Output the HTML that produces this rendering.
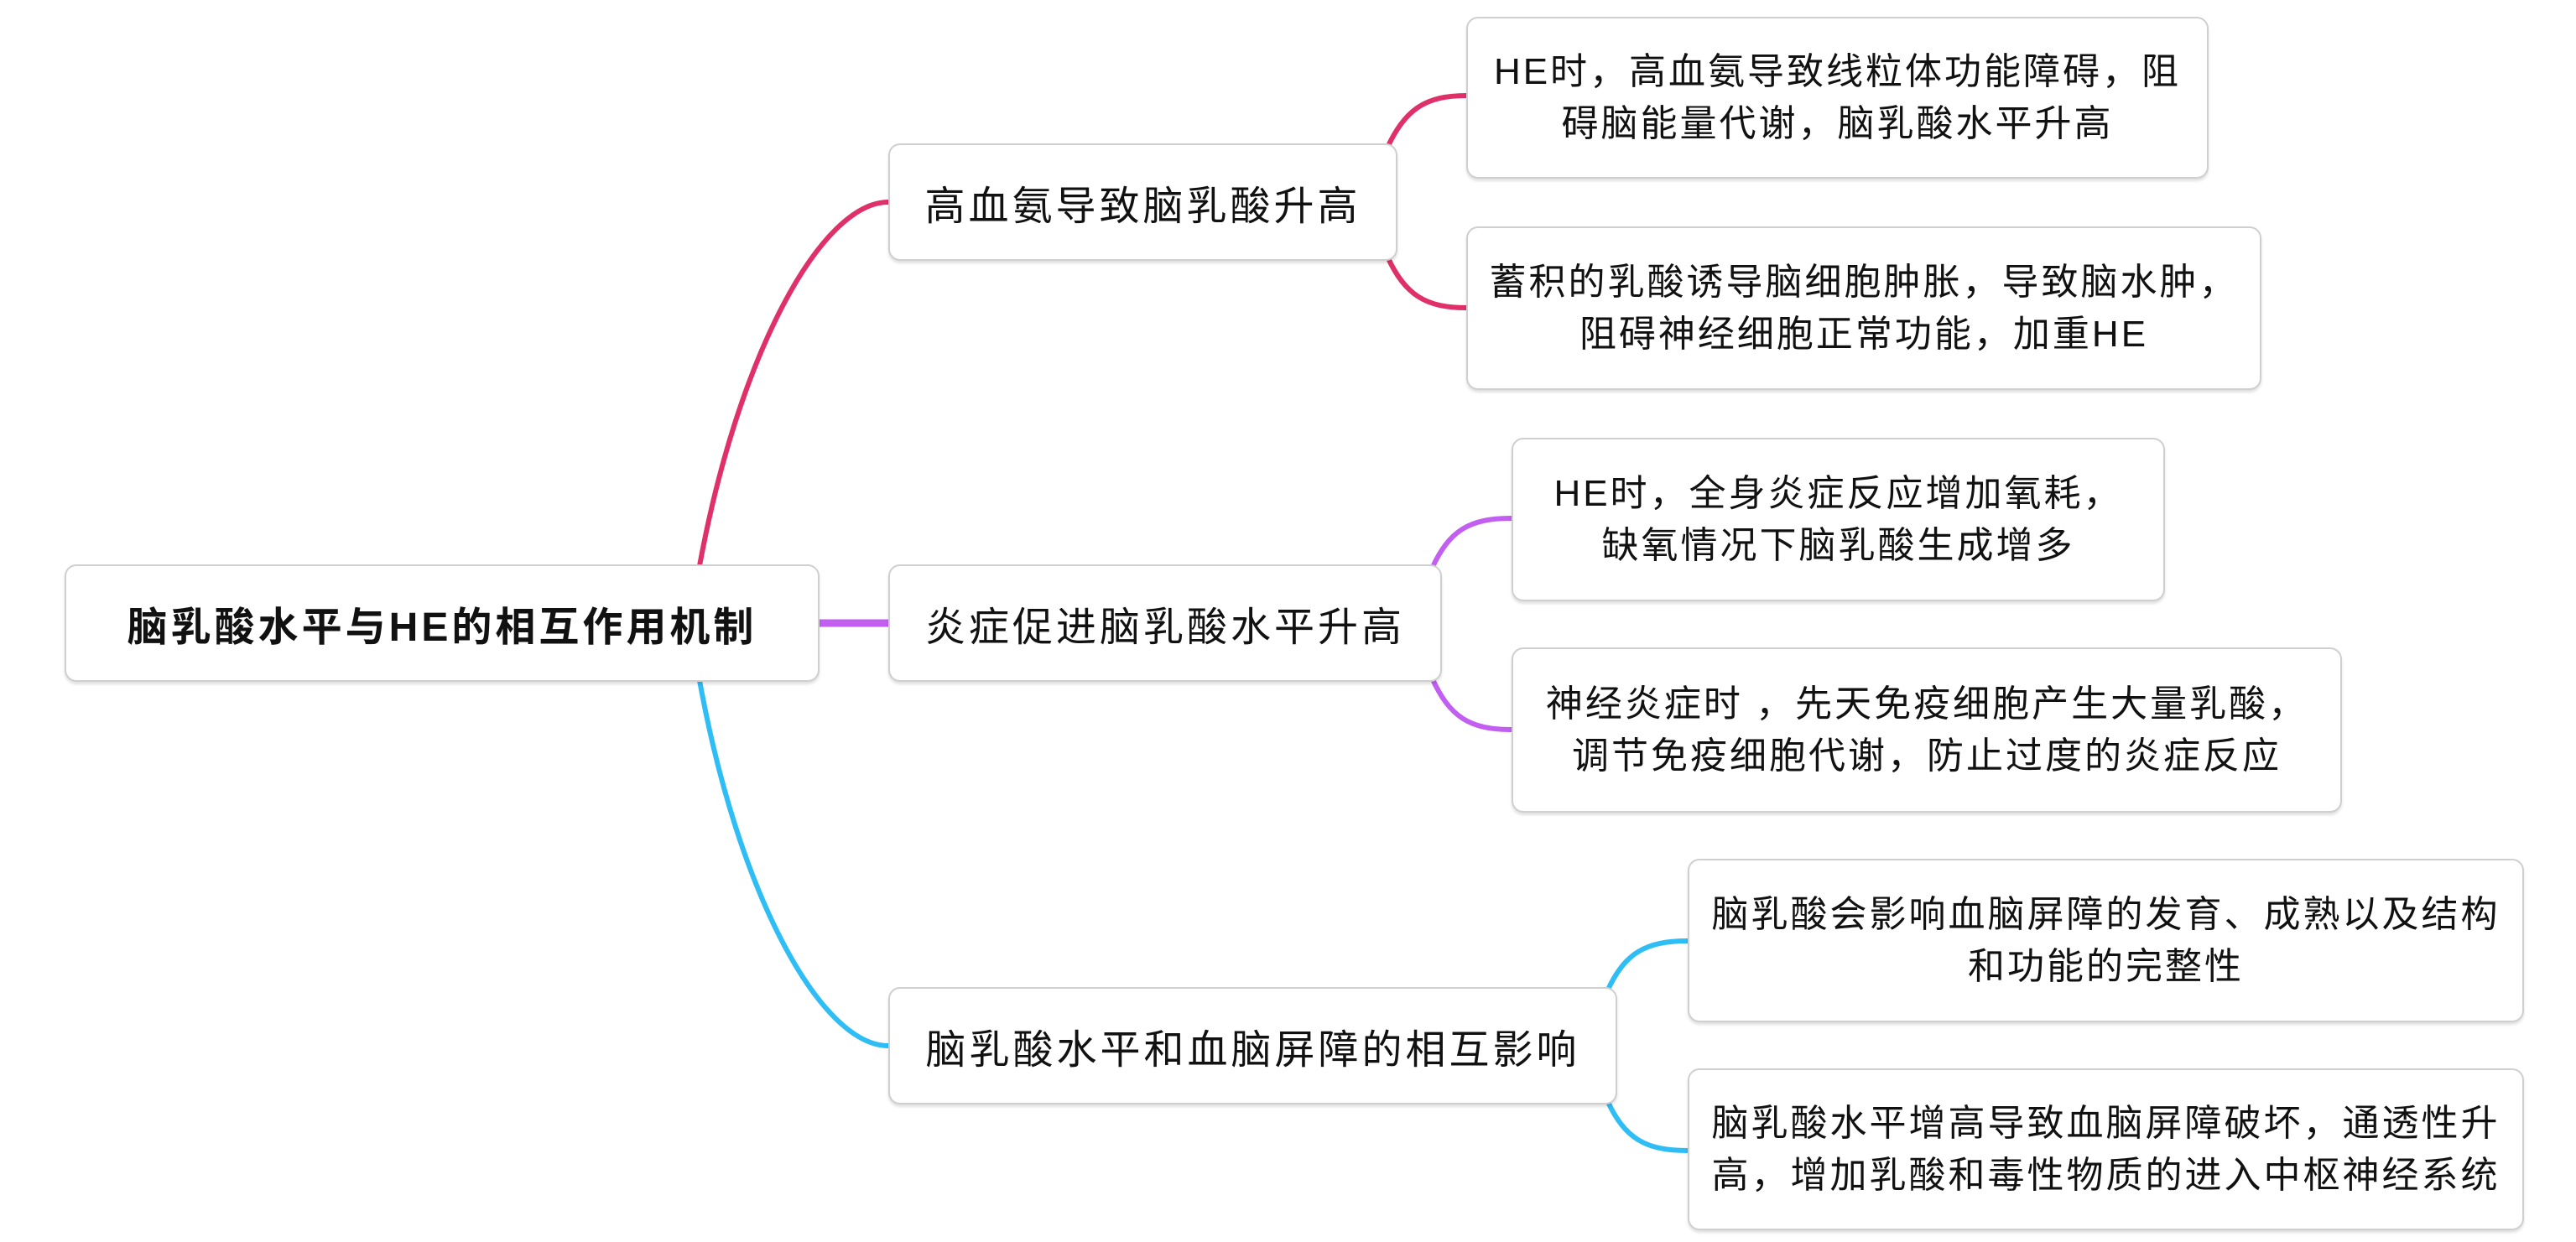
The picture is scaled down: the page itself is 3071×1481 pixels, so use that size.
<!DOCTYPE html>
<html><head><meta charset="utf-8">
<style>
html,body{margin:0;padding:0;background:#fff;}
body{width:3071px;height:1481px;position:relative;overflow:hidden;font-family:"Liberation Sans","Noto Sans CJK SC",sans-serif;color:#111;}
.b{position:absolute;box-sizing:border-box;border:2px solid #cfcfcf;border-radius:14px;background:#fff;box-shadow:0 3px 3px rgba(0,0,0,0.12);display:flex;align-items:center;justify-content:center;text-align:center;white-space:nowrap;}
.leaf{font-size:44px;letter-spacing:3px;line-height:62px;}
.br{font-size:48px;letter-spacing:4px;}
.root{font-size:48px;font-weight:bold;letter-spacing:4px;}
svg{position:absolute;left:0;top:0;}
</style></head><body>
<svg width="3071" height="1481" fill="none" stroke-width="6" stroke-linecap="round">
<path d="M833,680 C880,420 980,241 1059,241" stroke="#e0306a"/>
<path d="M977,743 L1059,743" stroke="#c25ef0" stroke-width="9"/>
<path d="M833,806 C880,1070 980,1247 1059,1247" stroke="#2ebdf5"/>
<path d="M1654,176 C1675,130 1700,114 1748,114" stroke="#e0306a"/>
<path d="M1654,306 C1675,352 1700,367 1748,367" stroke="#e0306a"/>
<path d="M1707,678 C1728,632 1752,618 1802,618" stroke="#c25ef0"/>
<path d="M1707,808 C1728,855 1752,870 1802,870" stroke="#c25ef0"/>
<path d="M1916,1182 C1937,1136 1962,1122 2012,1122" stroke="#2ebdf5"/>
<path d="M1916,1312 C1937,1358 1962,1372 2012,1372" stroke="#2ebdf5"/>
</svg>

<div class="b root" style="left:77px;top:673px;width:900px;height:140px;">脑乳酸水平与HE的相互作用机制</div>

<div class="b br" style="left:1059px;top:171px;width:607px;height:140px;">高血氨导致脑乳酸升高</div>
<div class="b br" style="left:1059px;top:673px;width:660px;height:140px;">炎症促进脑乳酸水平升高</div>
<div class="b br" style="left:1059px;top:1177px;width:869px;height:140px;">脑乳酸水平和血脑屏障的相互影响</div>

<div class="b leaf" style="left:1748px;top:20px;width:885px;height:193px;">HE时，高血氨导致线粒体功能障碍，阻<br>碍脑能量代谢，脑乳酸水平升高</div>
<div class="b leaf" style="left:1748px;top:270px;width:948px;height:195px;">蓄积的乳酸诱导脑细胞肿胀，导致脑水肿，<br>阻碍神经细胞正常功能，加重HE</div>
<div class="b leaf" style="left:1802px;top:522px;width:779px;height:195px;">HE时，全身炎症反应增加氧耗，<br>缺氧情况下脑乳酸生成增多</div>
<div class="b leaf" style="left:1802px;top:772px;width:990px;height:197px;">神经炎症时 ，先天免疫细胞产生大量乳酸，<br>调节免疫细胞代谢，防止过度的炎症反应</div>
<div class="b leaf" style="left:2012px;top:1024px;width:997px;height:195px;">脑乳酸会影响血脑屏障的发育、成熟以及结构<br>和功能的完整性</div>
<div class="b leaf" style="left:2012px;top:1274px;width:997px;height:193px;">脑乳酸水平增高导致血脑屏障破坏，通透性升<br>高，增加乳酸和毒性物质的进入中枢神经系统</div>
</body></html>
